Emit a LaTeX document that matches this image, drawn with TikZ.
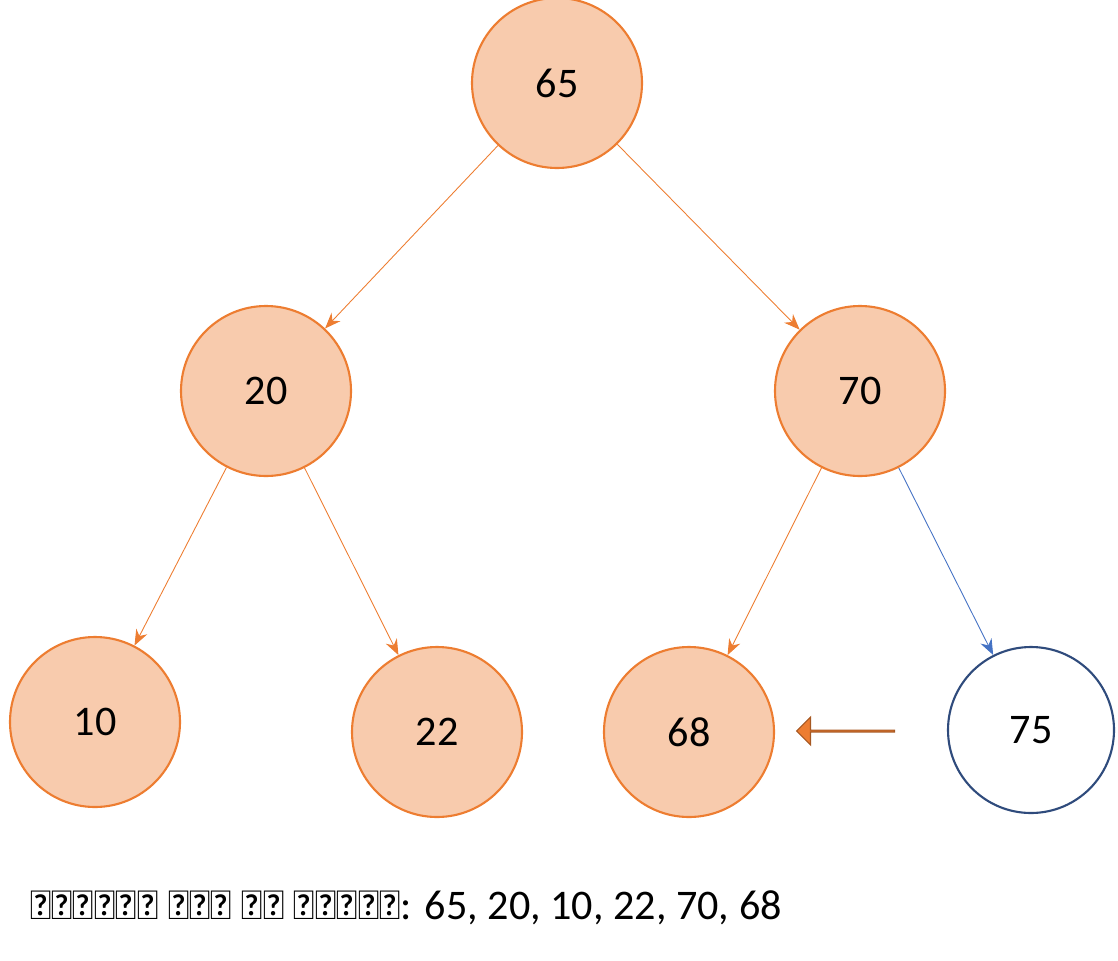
\documentclass[tikz,border=0pt]{standalone}
\usepackage{fontspec}
\setmainfont{Carlito}
\usetikzlibrary{arrows.meta,shapes.arrows}
\definecolor{peach}{HTML}{F8CBAD}
\definecolor{org}{HTML}{ED7D31}
\definecolor{blu}{HTML}{4472C4}
\definecolor{dblu}{HTML}{2F4B7C}
\begin{document}
\begin{tikzpicture}[x=0.02cm,y=-0.02cm,
  nd/.style={circle,draw=org,fill=peach,line width=1.2pt,minimum size=170*0.02cm,inner sep=0pt,font=\fontsize{24}{28}\selectfont},
  wn/.style={circle,draw=dblu,fill=white,line width=1.2pt,minimum size=166*0.02cm,inner sep=0pt,font=\fontsize{24}{28}\selectfont},
  ed/.style={draw=org,line width=0.5pt,-{Stealth[length=9pt,width=7pt]}}]
\useasboundingbox (0,0) rectangle (1118,960);
\node[nd] (n65) at (557,83) {65};
\node[nd] (n20) at (266,391) {20};
\node[nd] (n70) at (860,391) {70};
\node[nd] (n10) at (95,722) {10};
\node[nd] (n22) at (437,732) {22};
\node[nd] (n68) at (689,732) {68};
\node[wn] (n75) at (1031,730) {75};
\draw[ed] (n65) -- (n20);
\draw[ed] (n65) -- (n70);
\draw[ed] (n20) -- (n10);
\draw[ed] (n20) -- (n22);
\draw[ed] (n70) -- (n68);
\draw[ed,draw=blu] (n70) -- (n75);
\node[single arrow,shape border rotate=180,fill=org,draw=org!70!black,line width=0.6pt,minimum height=98*0.02cm,minimum width=28*0.02cm,single arrow head extend=7*0.02cm,single arrow head indent=0pt,inner sep=0pt] (arr) at (846,731) {};
\node[anchor=west,font=\fontsize{24}{28}\selectfont] (txt) at (24,908) {विज़िट किए गए नोड्स: 65, 20, 10, 22, 70, 68};
\end{tikzpicture}
\end{document}
